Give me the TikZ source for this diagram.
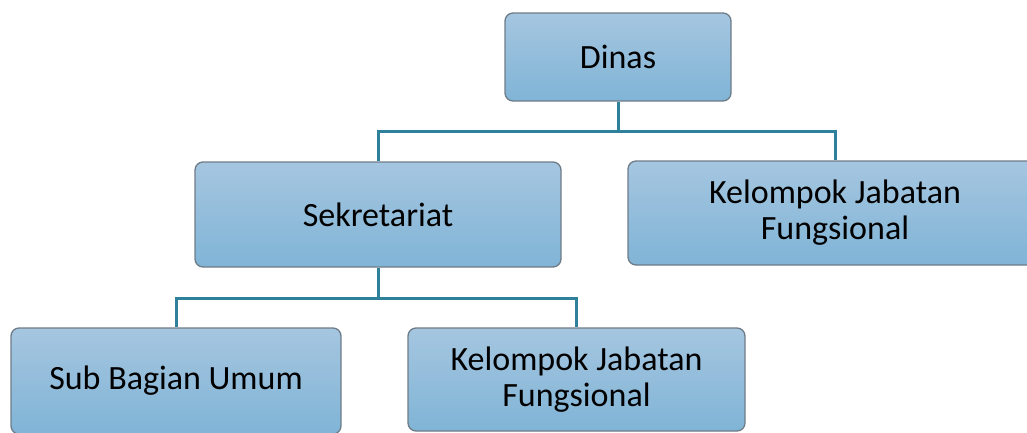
\documentclass[tikz,border=0pt]{standalone}
\usepackage{fontspec}
\setmainfont{Carlito}
\definecolor{boxtop}{RGB}{165,198,224}
\definecolor{boxbot}{RGB}{128,180,214}
\definecolor{boxline}{RGB}{110,124,136}
\definecolor{conn}{RGB}{46,128,155}
\begin{document}
\begin{tikzpicture}[x=1pt,y=-1pt,
  orgbox/.style={draw=boxline, line width=1.3pt, rounded corners=8pt,
    top color=boxtop, bottom color=boxbot, inner sep=0pt, align=center,
    font=\fontsize{34}{36}\selectfont, text=black},
  link/.style={draw=conn, line width=3pt}]
\useasboundingbox (0,0) rectangle (1027,432);
\node[orgbox, minimum width=226pt, minimum height=88pt] (dinas) at (618,57) {Dinas};
\node[orgbox, minimum width=366pt, minimum height=105pt] (sek) at (378,214.5) {Sekretariat};
\node[orgbox, minimum width=414pt, minimum height=104pt] (kjf1) at (835,213) {Kelompok Jabatan\\Fungsional};
\node[orgbox, minimum width=330pt, minimum height=106pt] (sbu) at (176,381) {Sub Bagian Umum};
\node[orgbox, minimum width=337pt, minimum height=103pt] (kjf2) at (576.5,379.5) {Kelompok Jabatan\\Fungsional};
\coordinate (bus1) at (618,131);
\coordinate (bus2) at (378,298);
\draw[link] (dinas.south) -- (bus1);
\draw[link] (sek.north) |- (bus1) -| (kjf1.north);
\draw[link] (sek.south) -- (bus2);
\draw[link] (sbu.north) |- (bus2) -| (kjf2.north);
\end{tikzpicture}
\end{document}
